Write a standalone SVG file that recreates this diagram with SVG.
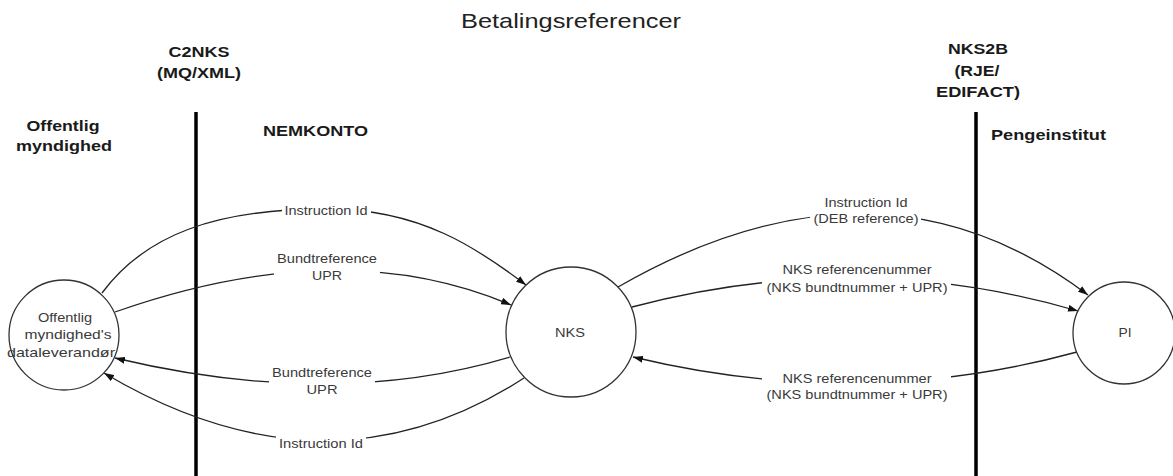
<svg xmlns="http://www.w3.org/2000/svg" width="1173" height="476" viewBox="0 0 1173 476">
<style>
text{font-family:"Liberation Sans",Arial,sans-serif;text-anchor:middle}
.t{font-size:21px;fill:#222}
.h{font-size:14.5px;font-weight:bold;fill:#1a1a1a}
.hl{font-size:14.5px;font-weight:bold;fill:#1a1a1a;text-anchor:start}
.l{font-size:13.5px;fill:#3a3a3a}
.n{font-size:13px;fill:#3a3a3a}
.c{fill:#fff;stroke:#333;stroke-width:1.3}
.e{fill:none;stroke:#222;stroke-width:1.3;marker-end:url(#a)}
.bg{fill:#fff}
.v{stroke:#000;stroke-width:3.5}
</style>
<defs>
<marker id="a" markerUnits="userSpaceOnUse" markerWidth="11" markerHeight="7" refX="10" refY="3.5" orient="auto">
<path d="M0,0 L10,3.5 L0,7 z" fill="#111"/>
</marker>
</defs>
<rect width="1173" height="476" fill="#fff"/>
<g id="title">
<text class="t" x="571" y="28" textLength="220" lengthAdjust="spacingAndGlyphs">Betalingsreferencer</text>
</g>
<g id="headers">
<text class="h" x="199" y="57" textLength="61" lengthAdjust="spacingAndGlyphs">C2NKS</text>
<text class="h" x="199" y="78" textLength="84" lengthAdjust="spacingAndGlyphs">(MQ/XML)</text>
<text class="h" x="63" y="131" textLength="73" lengthAdjust="spacingAndGlyphs">Offentlig</text>
<text class="h" x="64" y="151" textLength="96" lengthAdjust="spacingAndGlyphs">myndighed</text>
<text class="hl" x="263" y="136" textLength="105" lengthAdjust="spacingAndGlyphs">NEMKONTO</text>
<text class="h" x="978" y="54" textLength="60" lengthAdjust="spacingAndGlyphs">NKS2B</text>
<text class="h" x="977" y="76" textLength="45" lengthAdjust="spacingAndGlyphs">(RJE/</text>
<text class="h" x="978" y="97" textLength="84" lengthAdjust="spacingAndGlyphs">EDIFACT)</text>
<text class="hl" x="991" y="140" textLength="115" lengthAdjust="spacingAndGlyphs">Pengeinstitut</text>
</g>
<g id="boundaries">
<line class="v" x1="196" y1="112" x2="196" y2="476"/>
<line class="v" x1="976" y1="112" x2="976" y2="476"/>
</g>
<g id="connectors">
<path class="e" d="M102,293 C145,235 215,209 326,209 C420,208 480,250 526,285"/>
<path class="e" d="M115,312 Q340.5,232.5 511,305"/>
<path class="e" d="M510,357 Q332.5,410 115,358"/>
<path class="e" d="M524,378 Q327,505.5 104,373"/>
<path class="e" d="M618,287 Q879,137 1088,295"/>
<path class="e" d="M632,307 Q858.5,247 1078,311"/>
<path class="e" d="M1077,352 Q859,411.5 633,357"/>
<g id="labels">
<rect class="bg" x="282" y="200" width="89" height="19"/>
<text class="l" x="326" y="215" textLength="83" lengthAdjust="spacingAndGlyphs">Instruction Id</text>
<rect class="bg" x="274" y="250" width="106" height="34"/>
<text class="l" x="327" y="263" textLength="100" lengthAdjust="spacingAndGlyphs">Bundtreference</text>
<text class="l" x="327" y="280" textLength="30" lengthAdjust="spacingAndGlyphs">UPR</text>
<rect class="bg" x="269" y="364" width="106" height="34"/>
<text class="l" x="322" y="377" textLength="100" lengthAdjust="spacingAndGlyphs">Bundtreference</text>
<text class="l" x="322" y="394" textLength="31" lengthAdjust="spacingAndGlyphs">UPR</text>
<rect class="bg" x="276" y="433" width="90" height="19"/>
<text class="l" x="321" y="448" textLength="84" lengthAdjust="spacingAndGlyphs">Instruction Id</text>
<rect class="bg" x="810" y="194" width="111" height="33"/>
<text class="l" x="866" y="207" textLength="83" lengthAdjust="spacingAndGlyphs">Instruction Id</text>
<text class="l" x="866" y="223" textLength="105" lengthAdjust="spacingAndGlyphs">(DEB reference)</text>
<rect class="bg" x="762" y="261" width="189" height="35"/>
<text class="l" x="857" y="274" textLength="149" lengthAdjust="spacingAndGlyphs">NKS referencenummer</text>
<text class="l" x="857" y="292" textLength="181" lengthAdjust="spacingAndGlyphs">(NKS bundtnummer + UPR)</text>
<rect class="bg" x="762" y="370" width="189" height="34"/>
<text class="l" x="857" y="383" textLength="149" lengthAdjust="spacingAndGlyphs">NKS referencenummer</text>
<text class="l" x="857" y="399" textLength="181" lengthAdjust="spacingAndGlyphs">(NKS bundtnummer + UPR)</text>
</g>
</g>
<g id="node-dataleverandor">
<circle class="c" cx="64" cy="335" r="55"/>
<text class="n" x="65" y="322" textLength="54" lengthAdjust="spacingAndGlyphs">Offentlig</text>
<text class="n" x="68" y="339" textLength="87" lengthAdjust="spacingAndGlyphs">myndighed's</text>
<text class="n" x="61" y="357" textLength="108" lengthAdjust="spacingAndGlyphs">dataleverandør</text>
</g>
<g id="node-nks">
<circle class="c" cx="571" cy="332" r="65"/>
<text class="n" x="570" y="337" textLength="30" lengthAdjust="spacingAndGlyphs">NKS</text>
</g>
<g id="node-pi">
<circle class="c" cx="1124" cy="333" r="51"/>
<text class="n" x="1125" y="337" textLength="13" lengthAdjust="spacingAndGlyphs">PI</text>
</g>
</svg>
